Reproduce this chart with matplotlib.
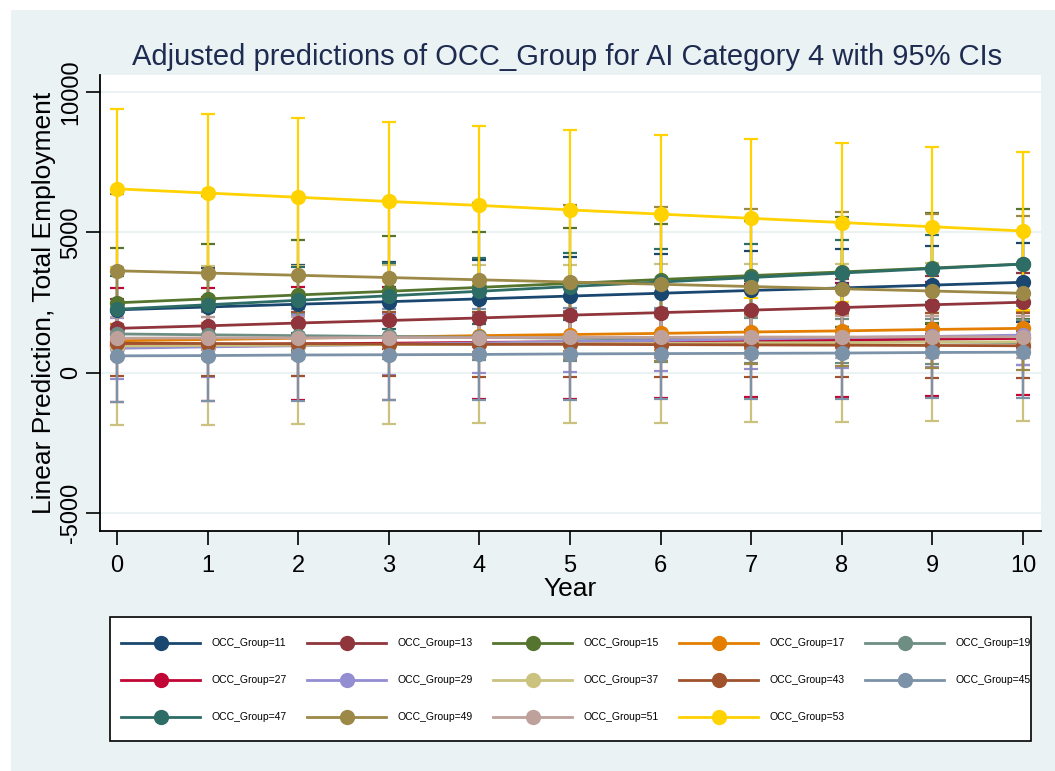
import matplotlib
matplotlib.use('Agg')
import matplotlib.pyplot as plt
from matplotlib.patches import Rectangle
from matplotlib.lines import Line2D

plt.rcParams['font.family'] = ['Liberation Sans', 'DejaVu Sans']

years = [0, 1, 2, 3, 4, 5, 6, 7, 8, 9, 10]
groups = [11, 13, 15, 17, 19, 27, 29, 37, 43, 45, 47, 49, 51, 53]

# predicted values per OCC group
occ11 = [2240, 2340, 2440, 2530, 2630, 2730, 2830, 2930, 3020, 3120, 3220]
occ13 = [1580, 1670, 1770, 1860, 1950, 2050, 2140, 2230, 2320, 2420, 2510]
occ15 = [2490, 2630, 2770, 2900, 3040, 3180, 3320, 3460, 3590, 3730, 3870]
occ17 = [1140, 1180, 1230, 1270, 1320, 1360, 1400, 1450, 1490, 1540, 1580]
occ19 = [1380, 1350, 1320, 1290, 1260, 1230, 1190, 1160, 1130, 1100, 1070]
occ27 = [980, 1000, 1030, 1050, 1080, 1100, 1120, 1150, 1170, 1200, 1220]
occ29 = [870, 920, 960, 1010, 1060, 1110, 1150, 1200, 1250, 1290, 1340]
occ37 = [950, 970, 980, 1000, 1010, 1030, 1040, 1060, 1070, 1090, 1100]
occ43 = [1050, 1040, 1030, 1020, 1010, 1010, 1000, 990, 980, 970, 960]
occ45 = [600, 610, 630, 640, 650, 670, 680, 690, 700, 720, 730]
occ47 = [2260, 2420, 2580, 2740, 2900, 3070, 3230, 3390, 3550, 3710, 3870]
occ49 = [3630, 3550, 3470, 3390, 3310, 3230, 3150, 3070, 2990, 2910, 2830]
occ51 = [1230, 1240, 1240, 1250, 1250, 1260, 1260, 1270, 1270, 1280, 1280]
occ53 = [6550, 6400, 6250, 6100, 5960, 5800, 5650, 5500, 5350, 5200, 5050]

# half width of the 95% CI, one per group
ci_half = [1400, 1030, 1960, 600, 800, 2020, 1080, 2820, 1150, 1630, 1180, 2750, 740, 2830]

preds = [occ11, occ13, occ15, occ17, occ19, occ27, occ29, occ37, occ43, occ45, occ47, occ49, occ51, occ53]
colors = ['#1A476F', '#90353B', '#55752F', '#E37E00', '#6E8E84', '#C10534', '#938DD2',
          '#CAC27E', '#A0522D', '#7B92A8', '#2D6D66', '#9C8847', '#BFA19C', '#FFD200']

W, H = 1055, 771
fig = plt.figure(figsize=(W/100, H/100), dpi=100, facecolor='white')

# background + legend layer in pixel coords
bg = fig.add_axes([0, 0, 1, 1], zorder=-1)
bg.set_xlim(0, W)
bg.set_ylim(H, 0)
bg.axis('off')
bg.add_patch(Rectangle((11, 10), W-11, H-10, facecolor='#EAF2F3', edgecolor='none'))

ax = fig.add_axes([100/W, 1-531/H, (1041-100)/W, (531-75)/H])
ax.set_facecolor('white')

for k in range(len(groups)):
  ax.errorbar(years, preds[k], yerr=ci_half[k], fmt='none', ecolor=colors[k],
              elinewidth=1.6, capsize=5, capthick=1.6, zorder=2)
for k in range(len(groups)):
  ax.plot(years, preds[k], color=colors[k], lw=2.0, marker='o', ms=11,
          markeredgewidth=0, zorder=3)

ax.set_xlim(-0.188, 10.2)
ax.set_ylim(-5640, 10606)
ax.set_xticks(years)
ax.set_yticks([-5000, 0, 5000, 10000])
ax.set_yticklabels(['-5000', '0', '5000', '10000'], rotation=90, va='center')
ax.tick_params(axis='both', labelsize=17, length=10, width=1.2, color='black')
ax.tick_params(axis='y', pad=3)
ax.tick_params(axis='x', pad=7)
ax.grid(axis='y', color='#EAF2F3', lw=1.5)
ax.set_axisbelow(True)
for s in ['top', 'right']:
  ax.spines[s].set_visible(False)
for s in ['left', 'bottom']:
  ax.spines[s].set_linewidth(1.3)

ax.set_ylabel('Linear Prediction, Total Employment', fontsize=19)
ax.yaxis.set_label_coords(-0.047, 0.5)
ax.set_xlabel('Year', fontsize=19)
ax.xaxis.set_label_coords(0.5, -0.1)

fig.text(567/W, 1-57/H, 'Adjusted predictions of OCC_Group for AI Category 4 with 95% CIs',
         fontsize=21, color='#1E2B50', ha='center', va='center')

# legend box, filled row by row like the original
bg.add_patch(Rectangle((110, 617), 921, 124, facecolor='white', edgecolor='black', lw=1.2))
for i in range(len(groups)):
  r = i // 5
  c = i % 5
  x0 = 121 + 186*c
  y0 = 643 + 37*r
  bg.add_line(Line2D([x0, x0+79], [y0, y0], color=colors[i], lw=2.0))
  bg.plot(x0+39.5, y0, 'o', color=colors[i], ms=11, markeredgewidth=0)
  bg.text(x0+91, y0, 'OCC_Group=' + str(groups[i]), fontsize=7.5, va='center', ha='left')

fig.savefig('out.png', dpi=100)
